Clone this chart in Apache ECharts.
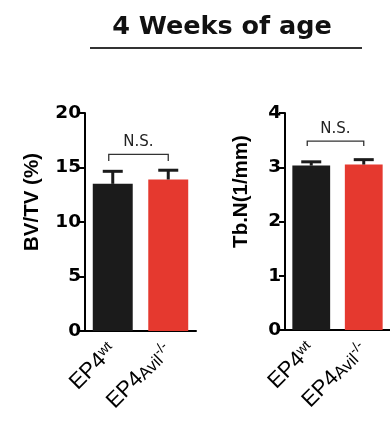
<!DOCTYPE html>
<html><head><meta charset="utf-8">
<script src="https://cdn.jsdelivr.net/npm/echarts@6/dist/echarts.min.js"></script>
<style>html,body{margin:0;padding:0;background:#fff}#c{width:390px;height:432px}</style>
</head><body><div id="c"></div>
<script>
// ---- data ----
const categories = ['EP4wt', 'EP4Avil-/-'];
const bvtvMean = [13.5, 13.9];
const bvtvUpper = [14.65, 14.75];
const tbnMean = [3.03, 3.05];
const tbnUpper = [3.1, 3.14];
const bvtvTicks = [0, 5, 10, 15, 20];
const tbnTicks = [0, 1, 2, 3, 4];
const bracketLevel = [16.2, 3.48];
const bracketLeg = [15.6, 3.39];
const nsLabelLevel = [17.3, 3.7];
const sigText = 'N.S.';

const chart = echarts.init(document.getElementById('c'));
const BLACK = '#1b1b1b', RED = '#e5392f';

function xLabelFmt(v) {
  if (v === 'EP4wt') return 'EP4{sup|wt}';
  return 'EP4{sub|Avil}{sup|-/-}';
}
function xAxis(idx) {
  return {
    type: 'category', gridIndex: idx, data: categories,
    axisLine: {lineStyle: {color: '#000', width: 2}},
    axisTick: {alignWithLabel: true, length: 5, lineStyle: {color: '#000', width: 2}},
    axisLabel: {
      rotate: 45, margin: 16, interval: 0, formatter: xLabelFmt,
      fontFamily: 'Liberation Sans', fontSize: 22, color: '#000',
      rich: {
        sup: {fontFamily: 'Liberation Sans', fontSize: 14, verticalAlign: 'top', padding: [0, 0, 5, 0], color: '#000'},
        sub: {fontFamily: 'Liberation Sans', fontSize: 17, verticalAlign: 'bottom', color: '#000'}
      }
    }
  };
}
function yAxis(idx, name, ticks, gap, pad) {
  return {
    type: 'value', gridIndex: idx, min: ticks[0], max: ticks[ticks.length - 1],
    interval: ticks[1] - ticks[0],
    name: name, nameLocation: 'middle', nameGap: gap,
    nameTextStyle: {fontFamily: 'Liberation Sans', fontWeight: 'bold', fontSize: 20.5, color: '#000', padding: [0, 0, 0, pad]},
    axisLine: {show: true, lineStyle: {color: '#000', width: 2}},
    axisTick: {show: true, length: 6, lineStyle: {color: '#000', width: 2}},
    axisLabel: {fontFamily: 'DejaVu Sans', fontWeight: 'bold', fontSize: 18.5, color: '#000', margin: 4},
    splitLine: {show: false}
  };
}
function errRender(params, api) {
  const x = api.value(0);
  const base = api.coord([x, api.value(1)]);
  const top = api.coord([x, api.value(2)]);
  const st = {stroke: BLACK, lineWidth: 3};
  return {type: 'group', children: [
    {type: 'line', shape: {x1: base[0], y1: base[1], x2: top[0], y2: top[1]}, style: st},
    {type: 'line', shape: {x1: top[0] - 10, y1: top[1], x2: top[0] + 10, y2: top[1]}, style: st}
  ]};
}
function bracketRender(params, api) {
  const a = api.coord([api.value(0), api.value(2)]);
  const b = api.coord([api.value(1), api.value(2)]);
  const legY = api.coord([api.value(0), api.value(3)])[1];
  const ty = api.coord([api.value(0), api.value(4)])[1];
  const st = {stroke: '#333', lineWidth: 1.3, fill: null};
  return {type: 'group', children: [
    {type: 'polyline', shape: {points: [[a[0] - 4, legY], [a[0] - 4, a[1]], [b[0], b[1]], [b[0], legY]]}, style: st},
    {type: 'text', x: (a[0] + b[0]) / 2 - 2, y: ty, style: {text: sigText, fontFamily: 'DejaVu Sans', fontSize: 15, fill: '#222', align: 'center', verticalAlign: 'middle'}}
  ]};
}
const series = [];
[[bvtvMean, bvtvUpper], [tbnMean, tbnUpper]].forEach(function (d, i) {
  series.push({
    type: 'bar', xAxisIndex: i, yAxisIndex: i, barWidth: '72%',
    data: d[0].map(function (v, k) { return {value: v, itemStyle: {color: k === 0 ? BLACK : RED}}; }),
    silent: true, z: 2
  });
  series.push({
    type: 'custom', xAxisIndex: i, yAxisIndex: i, renderItem: errRender, z: 3,
    data: d[0].map(function (v, k) { return [k, v, d[1][k]]; })
  });
  series.push({
    type: 'custom', xAxisIndex: i, yAxisIndex: i, renderItem: bracketRender, z: 3,
    data: [[0, 1, bracketLevel[i], bracketLeg[i], nsLabelLevel[i]]]
  });
});

chart.setOption({
  animation: false,
  title: {text: '4 Weeks of age', left: 217, top: 9, textAlign: 'center',
    textStyle: {fontFamily: 'DejaVu Sans', fontWeight: 'bold', fontSize: 25.5, color: '#111'}},
  graphic: [{type: 'line', shape: {x1: 90, y1: 48, x2: 362, y2: 48}, style: {stroke: '#333', lineWidth: 2}}],
  grid: [
    {left: 85, top: 113, width: 111, height: 218},
    {left: 285, top: 113, width: 111, height: 217}
  ],
  xAxis: [xAxis(0), xAxis(1)],
  yAxis: [yAxis(0, 'BV/TV (%)', bvtvTicks, 42, 40), yAxis(1, 'Tb.N(1/mm)', tbnTicks, 33, 60)],
  series: series
});
</script></body></html>
